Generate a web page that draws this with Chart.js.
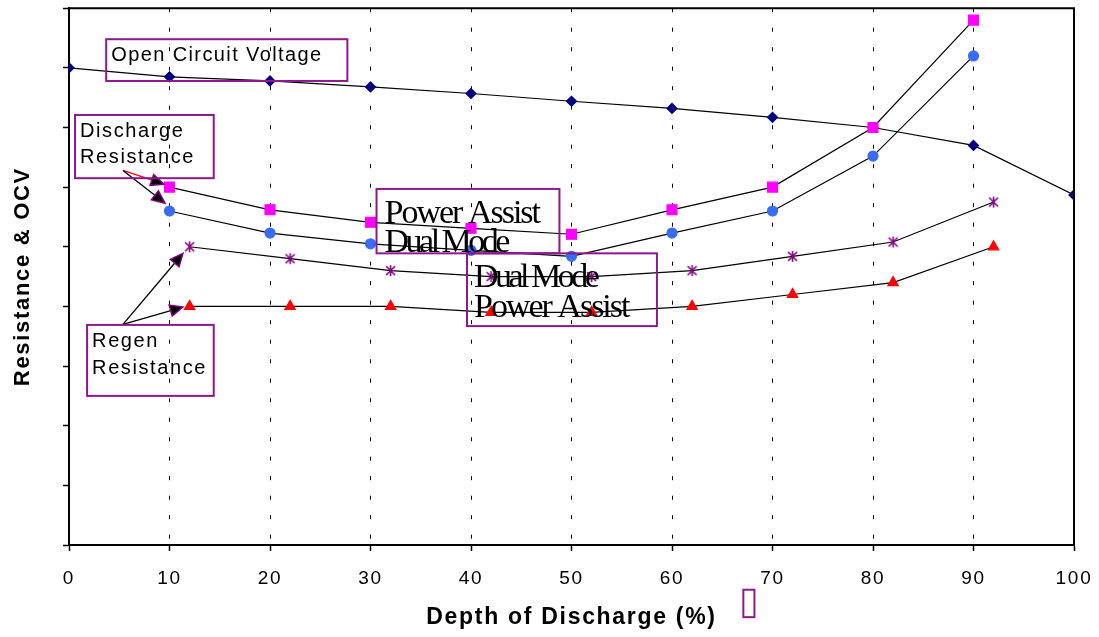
<!DOCTYPE html>
<html>
<head>
  <title>Resistance &amp; OCV vs Depth of Discharge</title>
  <script src="https://cdn.jsdelivr.net/npm/chart.js"></script>
  <style>
    body {
      margin: 0;
      background: #fff;
    }
  </style>
</head>
<body>
  <canvas id="dodChart" width="1099" height="637"></canvas>
  <script>
    // Depth of discharge (%) where each series was sampled
    const ocvDoD = [0, 10, 20, 30, 40, 50, 60, 70, 80, 90, 100];
    const dischargeDoD = [10, 20, 30, 40, 50, 60, 70, 80, 90];
    const regenDoD = [12, 22, 32, 42, 52, 62, 72, 82, 92];

    // Measured values (arbitrary units, axis is unlabelled)
    const openCircuitVoltage = [8.0, 7.85, 7.78, 7.68, 7.57, 7.44, 7.32, 7.17, 7.0, 6.7, 5.87];
    const dischargePowerAssist = [6.0, 5.62, 5.41, 5.31, 5.21, 5.62, 6.0, 7.0, 8.8];
    const dischargeDualMode = [5.6, 5.23, 5.05, 4.94, 4.84, 5.23, 5.6, 6.52, 8.2];
    const regenDualMode = [5.0, 4.8, 4.6, 4.5, 4.5, 4.6, 4.84, 5.08, 5.75];
    const regenPowerAssist = [4.0, 4.0, 4.0, 3.9, 3.9, 4.0, 4.2, 4.4, 5.0];

    const pairs = (xs, ys) => xs.map((x, i) => ({ x: x, y: ys[i] }));

    // six-armed asterisk marker for the regen dual mode series
    function asterisk(color) {
      const c = document.createElement('canvas');
      c.width = 13;
      c.height = 13;
      const g = c.getContext('2d');
      g.strokeStyle = color;
      g.lineWidth = 1.6;
      g.beginPath();
      g.moveTo(2, 2); g.lineTo(11, 11);
      g.moveTo(11, 2); g.lineTo(2, 11);
      g.moveTo(6.5, 1); g.lineTo(6.5, 12);
      g.stroke();
      return c;
    }

    // text boxes, in data units (x0,y0 = top left corner)
    const callouts = [
      { x0: 3.7, y0: 8.48, x1: 27.7, y1: 7.78, font: '20px "Liberation Sans", Arial', padX: 5,
        lines: [{ text: 'Open Circuit Voltage', base: 22, spacing: 1.4 }] },
      { x0: 0.6, y0: 7.21, x1: 14.4, y1: 6.15, font: '20px "Liberation Sans", Arial', padX: 5,
        lines: [{ text: 'Discharge', base: 22, spacing: 1.6 }, { text: 'Resistance', base: 48, spacing: 1.6 }] },
      { x0: 30.6, y0: 5.97, x1: 48.8, y1: 4.89, font: '34px "Liberation Serif", "Times New Roman"', padX: 8,
        lines: [{ text: 'Power Assist', base: 34, spacing: -2 }, { text: 'Dual Mode', base: 63, spacing: -3.5 }] },
      { x0: 39.6, y0: 4.89, x1: 58.5, y1: 3.67, font: '34px "Liberation Serif", "Times New Roman"', padX: 7,
        lines: [{ text: 'Dual Mode', base: 34, spacing: -3.5 }, { text: 'Power Assist', base: 64, spacing: -2 }] },
      { x0: 1.8, y0: 3.69, x1: 14.4, y1: 2.5, font: '20px "Liberation Sans", Arial', padX: 5,
        lines: [{ text: 'Regen', base: 22, spacing: 1.6 }, { text: 'Resistance', base: 49, spacing: 1.6 }] },
      { x0: 67.1, y0: -0.75, x1: 68.2, y1: -1.21, font: '20px Arial', padX: 0, lines: [] }
    ];

    const arrows = [
      { from: [5.37, 6.28], to: [9.45, 6.05], color: '#ff0000' },
      { from: [5.37, 6.28], to: [9.55, 5.73], color: '#000' },
      { from: [5.37, 3.70], to: [11.34, 4.89], color: '#000' },
      { from: [5.37, 3.70], to: [11.34, 3.99], color: '#000' }
    ];

    const calloutPlugin = {
      id: 'callouts',
      beforeDraw(chart) {
        chart.ctx.letterSpacing = '1.7px';
      },
      afterDraw(chart) {
        const { ctx, chartArea: a, scales: { x, y } } = chart;
        ctx.save();

        // close the frame on top and right
        ctx.strokeStyle = '#000';
        ctx.lineWidth = 2;
        ctx.beginPath();
        ctx.moveTo(a.left, a.top);
        ctx.lineTo(a.right, a.top);
        ctx.lineTo(a.right, a.bottom);
        ctx.stroke();

        arrows.forEach(ar => {
          const x0 = x.getPixelForValue(ar.from[0]), y0 = y.getPixelForValue(ar.from[1]);
          const x1 = x.getPixelForValue(ar.to[0]), y1 = y.getPixelForValue(ar.to[1]);
          const ang = Math.atan2(y1 - y0, x1 - x0);
          ctx.strokeStyle = ar.color;
          ctx.lineWidth = 1.3;
          ctx.beginPath();
          ctx.moveTo(x0, y0);
          ctx.lineTo(x1 - 10 * Math.cos(ang), y1 - 10 * Math.sin(ang));
          ctx.stroke();
          // arrow head
          ctx.beginPath();
          ctx.moveTo(x1, y1);
          ctx.lineTo(x1 - 14 * Math.cos(ang - 0.42), y1 - 14 * Math.sin(ang - 0.42));
          ctx.lineTo(x1 - 14 * Math.cos(ang + 0.42), y1 - 14 * Math.sin(ang + 0.42));
          ctx.closePath();
          ctx.fillStyle = '#000';
          ctx.fill();
          ctx.strokeStyle = '#800080';
          ctx.lineWidth = 1.5;
          ctx.stroke();
        });

        callouts.forEach(c => {
          const l = x.getPixelForValue(c.x0), r = x.getPixelForValue(c.x1);
          const t = y.getPixelForValue(c.y0), b = y.getPixelForValue(c.y1);
          ctx.strokeStyle = '#8a1a8a';
          ctx.lineWidth = 2;
          ctx.strokeRect(l, t, r - l, b - t);
          ctx.fillStyle = '#000';
          ctx.font = c.font;
          ctx.textAlign = 'left';
          ctx.textBaseline = 'alphabetic';
          c.lines.forEach(ln => {
            ctx.letterSpacing = ln.spacing + 'px';
            ctx.fillText(ln.text, l + c.padX, t + ln.base);
          });
        });
        ctx.restore();
      }
    };

    const lineStyle = { borderColor: '#000', borderWidth: 1.2, fill: false, tension: 0 };

    new Chart(document.getElementById('dodChart').getContext('2d'), {
      type: 'line',
      data: {
        datasets: [
          Object.assign({ label: 'Discharge Power Assist', data: pairs(dischargeDoD, dischargePowerAssist),
            pointStyle: 'rect', pointRadius: 7, pointBackgroundColor: '#ff00ff', pointBorderColor: '#ff00ff' }, lineStyle),
          Object.assign({ label: 'Discharge Dual Mode', data: pairs(dischargeDoD, dischargeDualMode),
            pointStyle: 'circle', pointRadius: 5, pointBackgroundColor: '#3a6cf4', pointBorderColor: '#3a6cf4' }, lineStyle),
          Object.assign({ label: 'Regen Dual Mode', data: pairs(regenDoD, regenDualMode),
            pointStyle: asterisk('#800080'), pointRadius: 6 }, lineStyle),
          Object.assign({ label: 'Regen Power Assist', data: pairs(regenDoD, regenPowerAssist),
            pointStyle: 'triangle', pointRadius: 6, pointBackgroundColor: '#ff0000', pointBorderColor: '#ff0000' }, lineStyle),
          Object.assign({ label: 'Open Circuit Voltage', data: pairs(ocvDoD, openCircuitVoltage),
            pointStyle: 'rectRot', pointRadius: 5, pointBackgroundColor: '#000080', pointBorderColor: '#000080' }, lineStyle)
        ]
      },
      options: {
        responsive: false,
        animation: false,
        events: [],
        layout: { padding: { top: 8, right: 25, left: 0, bottom: 0 } },
        plugins: {
          legend: { display: false },
          tooltip: { enabled: false }
        },
        scales: {
          x: {
            type: 'linear',
            min: 0,
            max: 100,
            ticks: {
              stepSize: 10,
              autoSkip: false,
              maxRotation: 0,
              padding: 16,
              color: '#000',
              font: { family: '"Liberation Sans", Arial', size: 19 }
            },
            grid: { color: '#000', lineWidth: 1, tickLength: 6, tickColor: '#000', tickWidth: 1.5 },
            border: { color: '#000', width: 2, dash: [4, 15.5] },
            title: {
              display: true,
              text: 'Depth of Discharge (%)',
              color: '#000',
              font: { family: '"Liberation Sans", Arial', size: 23, weight: 'bold' },
              padding: { top: 0, bottom: 6 }
            },
            afterFit(scale) {
              scale.height = 92;
              scale.paddingLeft = 0;
              scale.paddingRight = 0;
            }
          },
          y: {
            min: 0,
            max: 9,
            ticks: { display: false, stepSize: 1 },
            grid: { drawOnChartArea: false, tickLength: 6, tickColor: '#000', tickWidth: 1.5 },
            border: { color: '#000', width: 2 },
            title: {
              display: true,
              text: 'Resistance & OCV',
              color: '#000',
              font: { family: '"Liberation Sans", Arial', size: 22, weight: 'bold' },
              padding: { top: 10, bottom: 0 }
            },
            afterFit(scale) { scale.width = 69; }
          }
        }
      },
      plugins: [calloutPlugin]
    });
  </script>
</body>
</html>
